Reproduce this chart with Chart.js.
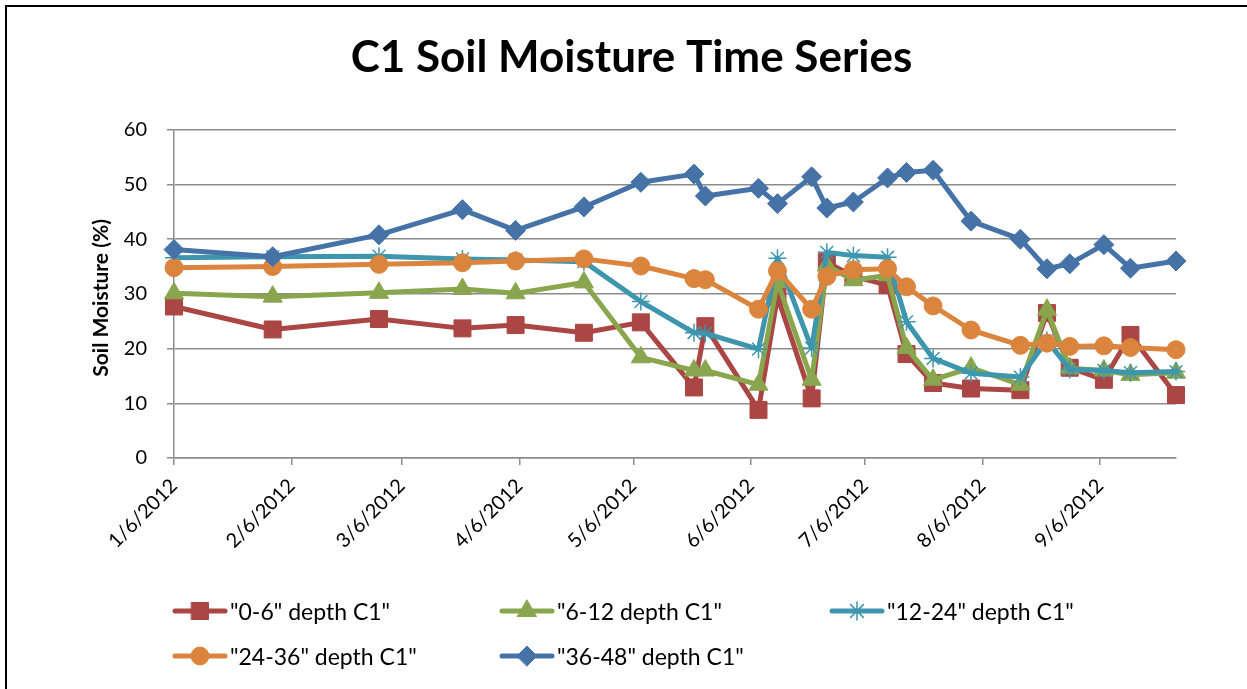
<!DOCTYPE html>
<html>
<head>
<meta charset="utf-8">
<script src="https://cdn.jsdelivr.net/npm/chart.js@4.4.1/dist/chart.umd.min.js"></script>
<style>
  html, body { margin: 0; padding: 0; background: #fff; overflow: hidden; }
  #wrap { position: relative; width: 1247px; height: 689px; }
  #frame { position: absolute; left: 5px; top: 5px; width: 2000px; height: 2000px;
           border-left: 2px solid #000; border-top: 2px solid #000; pointer-events: none; }
  #legend { position: absolute; left: 0; top: 0; width: 1247px; height: 689px; pointer-events: none;
            font-family: Lato, "Open Sans", sans-serif; font-size: 23px; color: #000; }
  .item { position: absolute; height: 24px; display: flex; align-items: center; white-space: nowrap; }
  .item canvas { margin-right: 2px; }
</style>
</head>
<body>
<div id="wrap">
  <canvas id="soilChart" width="1247" height="689"></canvas>
  <div id="legend"></div>
  <div id="frame"></div>
</div>
<script>
// Sampling dates (C1 site)
const sampleDates = ['2012-01-06', '2012-02-01', '2012-02-29', '2012-03-22', '2012-04-05', '2012-04-23',
    '2012-05-08', '2012-05-22', '2012-05-25', '2012-06-08', '2012-06-13', '2012-06-22', '2012-06-26',
    '2012-07-03', '2012-07-12', '2012-07-17', '2012-07-24', '2012-08-03', '2012-08-16', '2012-08-23',
    '2012-08-29', '2012-09-07', '2012-09-14', '2012-09-26'];

// Soil moisture (%) by depth
const depth0to6   = [27.7, 23.5, 25.4, 23.7, 24.3, 22.9, 24.8, 12.9, 24.1, 8.8, 29.5, 10.9, 35.8, 33.2, 31.6, 19.0, 13.7, 12.7, 12.4, 26.5, 16.5, 14.3, 22.5, 11.5];
const depth6to12  = [30.1, 29.5, 30.2, 30.9, 30.1, 32.1, 18.4, 16.0, 16.0, 13.4, 32.2, 14.3, 35.2, 32.5, 33.4, 20.1, 14.3, 16.5, 13.4, 27.1, 16.4, 16.0, 15.2, 15.6];
const depth12to24 = [36.6, 36.8, 36.9, 36.4, 36.2, 35.9, 28.6, 22.9, 22.8, 19.9, 36.5, 20.1, 37.6, 37.0, 36.7, 24.9, 18.2, 15.5, 14.8, 21.5, 16.2, 16.0, 15.6, 15.8];
const depth24to36 = [34.8, 35.0, 35.4, 35.7, 36.0, 36.4, 35.1, 32.8, 32.6, 27.2, 34.2, 27.2, 33.2, 34.4, 34.6, 31.3, 27.8, 23.4, 20.6, 21.0, 20.4, 20.5, 20.2, 19.8];
const depth36to48 = [38.1, 36.8, 40.8, 45.4, 41.6, 45.9, 50.4, 51.9, 47.9, 49.3, 46.5, 51.4, 45.7, 46.8, 51.2, 52.2, 52.6, 43.3, 40.0, 34.6, 35.5, 39.0, 34.7, 36.0];

const seriesNames = ['"0-6" depth C1"', '"6-12 depth C1"', '"12-24" depth C1"', '"24-36" depth C1"', '"36-48" depth C1"'];

// Axis: one tick per month on the 6th
const tickDates  = ['2012-01-06', '2012-02-06', '2012-03-06', '2012-04-06', '2012-05-06', '2012-06-06', '2012-07-06', '2012-08-06', '2012-09-06'];
const tickLabels = ['1/6/2012', '2/6/2012', '3/6/2012', '4/6/2012', '5/6/2012', '6/6/2012', '7/6/2012', '8/6/2012', '9/6/2012'];
const axisStart = '2012-01-06';
const axisEnd   = '2012-09-26';

// days since the axis start
function dayNum(s) {
    const p = s.split('-').map(Number);
    const a = axisStart.split('-').map(Number);
    return (Date.UTC(p[0], p[1] - 1, p[2]) - Date.UTC(a[0], a[1] - 1, a[2])) / 86400000;
}
const tickDays = tickDates.map(dayNum);

function toPoints(values) {
    return values.map((v, i) => ({ x: dayNum(sampleDates[i]), y: v }));
}

const styles = [
    { color: '#AA4643', pointStyle: 'rect',    radius: 12, borderWidth: 1 },
    { color: '#89A54E', pointStyle: 'triangle', radius: 11, borderWidth: 1 },
    { color: '#3D96AE', pointStyle: 'star',    radius: 9,  borderWidth: 1.5 },
    { color: '#DB843D', pointStyle: 'circle',  radius: 9,  borderWidth: 1 },
    { color: '#4572A7', pointStyle: 'rectRot', radius: 10, borderWidth: 1 }
];
const allValues = [depth0to6, depth6to12, depth12to24, depth24to36, depth36to48];

const datasets = allValues.map((vals, i) => ({
    label: seriesNames[i],
    data: toPoints(vals),
    borderColor: styles[i].color,
    backgroundColor: styles[i].color,
    borderWidth: 5,
    borderJoinStyle: 'round',
    borderCapStyle: 'round',
    pointStyle: styles[i].pointStyle,
    pointRadius: styles[i].radius,
    pointBorderWidth: styles[i].borderWidth,
    pointBackgroundColor: styles[i].color,
    pointBorderColor: styles[i].color,
    order: 4 - i, // later series drawn on top, as in the original
    clip: false,
    tension: 0
}));

const gridColor = '#8c8c8c';
const fontFamily = 'Lato, "Open Sans", sans-serif';

// y axis title drawn by hand (the built-in one got squeezed into the fixed axis width)
const yTitlePlugin = {
    id: 'yTitle',
    afterDraw(chart) {
        const ctx = chart.ctx;
        const area = chart.chartArea;
        ctx.save();
        ctx.translate(101, (area.top + area.bottom) / 2 + 4);
        ctx.rotate(-Math.PI / 2);
        ctx.font = 'bold 21px ' + fontFamily;
        ctx.fillStyle = '#000';
        ctx.textAlign = 'center';
        ctx.textBaseline = 'middle';
        ctx.fillText('Soil Moisture (%)', 0, 0);
        ctx.restore();
    }
};

new Chart(document.getElementById('soilChart'), {
    type: 'line',
    data: { datasets: datasets },
    plugins: [yTitlePlugin],
    options: {
        responsive: false,
        animation: false,
        layout: { padding: { left: 87, right: 71, top: 0, bottom: 121 } },
        plugins: {
            legend: { display: false },
            tooltip: { enabled: false },
            title: {
                display: true,
                text: 'C1 Soil Moisture Time Series',
                color: '#000',
                font: { family: fontFamily, size: 44, weight: 'bold', lineHeight: 1.2 },
                padding: { top: 31, bottom: 46 }
            }
        },
        scales: {
            x: {
                type: 'linear',
                min: 0,
                max: dayNum(axisEnd),
                afterBuildTicks: scale => { scale.ticks = tickDays.map(v => ({ value: v })); },
                afterFit: scale => { scale.height = 110; },
                ticks: {
                    autoSkip: false,
                    maxRotation: 45,
                    minRotation: 45,
                    color: '#000',
                    font: { family: fontFamily, size: 20 },
                    padding: 9,
                    callback: value => tickLabels[tickDays.indexOf(value)]
                },
                grid: { drawOnChartArea: false, drawTicks: true, tickLength: 7, color: gridColor, lineWidth: 1.5 },
                border: { color: gridColor, width: 1.5 }
            },
            y: {
                min: 0,
                max: 60,
                afterFit: scale => { scale.width = 87; },
                ticks: { stepSize: 10, color: '#000', font: { family: fontFamily, size: 20 }, padding: 20 },
                grid: { color: gridColor, lineWidth: 1.5, tickLength: 7 },
                border: { color: gridColor, width: 1.5 }
            }
        }
    }
});

// Legend laid out in a grid like the original
const legendPos = [[172, 611], [499, 611], [829, 611], [172, 656], [499, 656]];
const legendBox = document.getElementById('legend');
datasets.forEach((ds, i) => {
    const item = document.createElement('div');
    item.className = 'item';
    item.style.left = legendPos[i][0] + 'px';
    item.style.top = (legendPos[i][1] - 12) + 'px';

    const c = document.createElement('canvas');
    c.width = 56;
    c.height = 24;
    const ctx = c.getContext('2d');
    ctx.strokeStyle = styles[i].color;
    ctx.lineWidth = 5;
    ctx.lineCap = 'round';
    ctx.beginPath();
    ctx.moveTo(3, 12);
    ctx.lineTo(53, 12);
    ctx.stroke();
    ctx.fillStyle = styles[i].color;
    ctx.lineWidth = styles[i].borderWidth;
    Chart.helpers.drawPoint(ctx, { pointStyle: styles[i].pointStyle, radius: styles[i].radius, rotation: 0, borderWidth: styles[i].borderWidth }, 28, 12);

    const label = document.createElement('span');
    label.textContent = ds.label;

    item.appendChild(c);
    item.appendChild(label);
    legendBox.appendChild(item);
});
</script>
</body>
</html>
